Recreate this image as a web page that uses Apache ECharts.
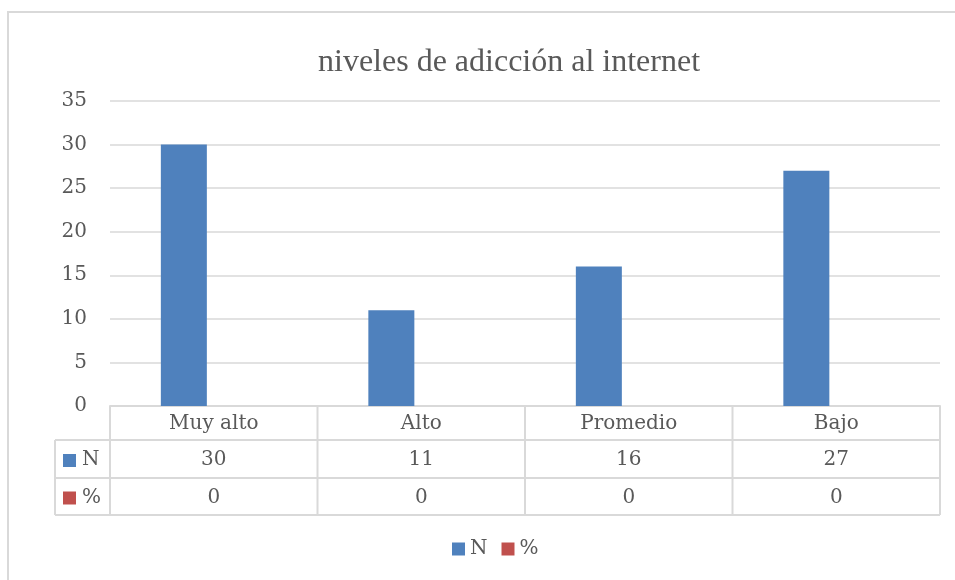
<!DOCTYPE html>
<html>
<head>
<meta charset="utf-8">
<script src="https://cdn.jsdelivr.net/npm/echarts@6/dist/echarts.min.js"></script>
<style>
  html, body { margin: 0; padding: 0; background: #fff; }
  #chart { width: 955px; height: 580px; }
</style>
</head>
<body>
<div id="chart"></div>
<script>
// data
var categories = ["Muy alto", "Alto", "Promedio", "Bajo"];
var valuesN = [30, 11, 16, 27];
var valuesPct = [0, 0, 0, 0];
var seriesNames = ["N", "%"];
var seriesColors = ["#4f81bd", "#c0504d"];

var lineColor = "#d9d9d9";
var textColor = "#595959";
var tableFont = "DejaVu Serif";

var chartDom = document.getElementById("chart");
var myChart = echarts.init(chartDom);

var option = {
  animation: false,
  title: {
    text: "niveles de adicción al internet",
    left: 313,
    top: 42,
    textStyle: {
      fontFamily: "Liberation Serif",
      fontSize: 32,
      fontWeight: "normal",
      color: textColor,
    },
  },
  legend: {
    bottom: 16,
    left: 447,
    icon: "rect",
    itemWidth: 13,
    itemHeight: 13,
    itemGap: 14,
    textStyle: { fontFamily: tableFont, fontSize: 20, color: textColor },
    data: seriesNames,
  },
  grid: {
    left: 110,
    right: 15,
    top: 101,
    bottom: 174,
  },
  xAxis: {
    type: "category",
    data: categories,
    axisTick: { show: false },
    axisLabel: { show: false },
    axisLine: { show: true, lineStyle: { color: lineColor, width: 2 } },
  },
  yAxis: {
    type: "value",
    min: 0,
    max: 35,
    interval: 5,
    axisLine: { show: false },
    axisTick: { show: false },
    axisLabel: {
      margin: 23,
      fontFamily: tableFont,
      fontSize: 20,
      color: textColor,
    },
    splitLine: { lineStyle: { color: lineColor, width: 1.5 } },
  },
  series: [
    {
      name: seriesNames[0],
      type: "bar",
      barWidth: 46,
      barGap: "30%",
      itemStyle: { color: seriesColors[0] },
      data: valuesN,
    },
    {
      name: seriesNames[1],
      type: "bar",
      barWidth: 46,
      itemStyle: { color: seriesColors[1] },
      data: valuesPct,
    },
  ],
};

myChart.setOption(option);

// data table under the axis, placed from the category scale
function buildTable() {
  var c0 = myChart.convertToPixel({ xAxisIndex: 0 }, 0);
  var c1 = myChart.convertToPixel({ xAxisIndex: 0 }, 1);
  var band = c1 - c0;
  var left = c0 - band / 2;
  var right = left + band * categories.length;
  var top = myChart.convertToPixel({ yAxisIndex: 0 }, 0);
  var rowH = [34, 38, 37];
  var y1 = top + rowH[0];
  var y2 = y1 + rowH[1];
  var y3 = y2 + rowH[2];
  var labelLeft = 55;
  var ls = { stroke: lineColor, lineWidth: 2 };
  var els = [];

  // horizontal lines
  [y1, y2, y3].forEach(function (y) {
    els.push({ type: "line", shape: { x1: labelLeft, y1: y, x2: right, y2: y }, style: ls });
  });
  // vertical lines
  for (var i = 0; i <= categories.length; i++) {
    var x = left + band * i;
    els.push({ type: "line", shape: { x1: x, y1: top, x2: x, y2: y3 }, style: ls });
  }
  els.push({ type: "line", shape: { x1: labelLeft, y1: y1, x2: labelLeft, y2: y3 }, style: ls });

  var rows = [categories, valuesN, valuesPct];
  var rowTop = [top, y1, y2];
  rows.forEach(function (row, r) {
    var cy = rowTop[r] + rowH[r] / 2 + 1;
    row.forEach(function (v, i) {
      els.push({
        type: "text",
        x: myChart.convertToPixel({ xAxisIndex: 0 }, i),
        y: cy,
        style: {
          text: String(v),
          fontFamily: tableFont,
          fontSize: 20,
          fill: textColor,
          align: "center",
          verticalAlign: "middle",
        },
      });
    });
  });

  // legend keys in the table
  seriesNames.forEach(function (name, s) {
    var cy = rowTop[s + 1] + rowH[s + 1] / 2 + 1;
    els.push({
      type: "rect",
      shape: { x: 63, y: cy - 6, width: 13, height: 13 },
      style: { fill: seriesColors[s] },
    });
    els.push({
      type: "text",
      x: 82,
      y: cy,
      style: {
        text: name,
        fontFamily: tableFont,
        fontSize: 20,
        fill: textColor,
        align: "left",
        verticalAlign: "middle",
      },
    });
  });

  // chart area border
  els.push({
    type: "rect",
    shape: { x: 8, y: 12, width: 960, height: 580 },
    style: { fill: "none", stroke: lineColor, lineWidth: 2 },
    silent: true,
  });

  myChart.setOption({ graphic: { elements: els } });
}

buildTable();
</script>
</body>
</html>
